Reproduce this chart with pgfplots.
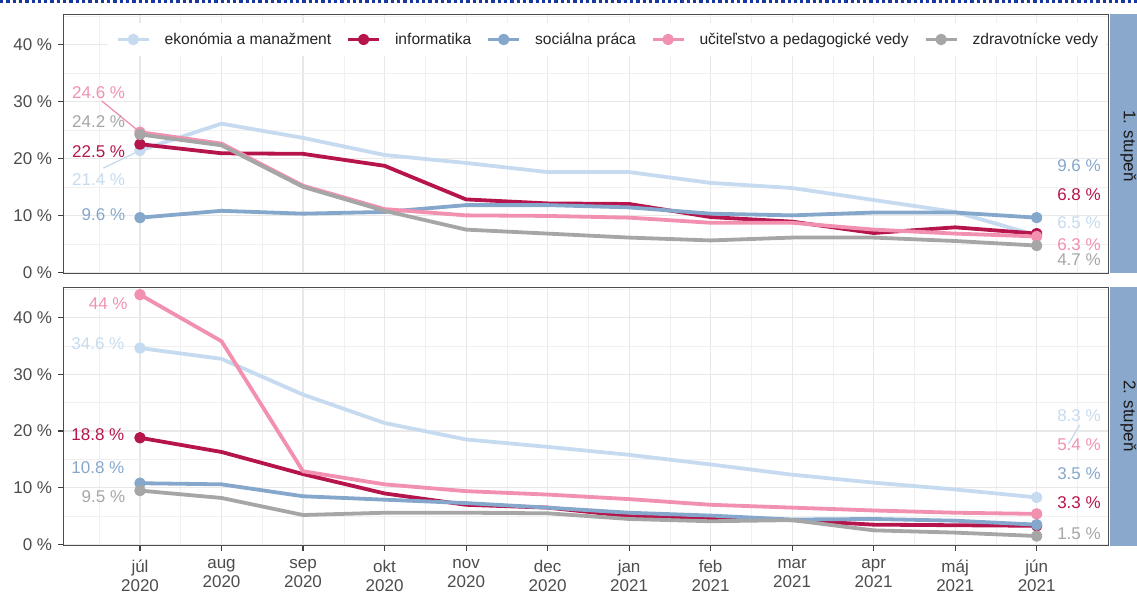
\documentclass[border=0pt]{standalone}
\usepackage{fontspec}
\setmainfont{Liberation Sans}
\usepackage{pgfplots}
\pgfplotsset{compat=1.18}
\definecolor{ekon}{RGB}{198,219,239}
\definecolor{info}{RGB}{181,20,77}
\definecolor{soc}{RGB}{134,167,204}
\definecolor{uc}{RGB}{241,145,175}
\definecolor{zdr}{RGB}{166,166,166}
\definecolor{strip}{RGB}{137,168,204}
\definecolor{dotblue}{RGB}{25,55,160}
\newcommand{\lbl}{\fontsize{17}{19}\selectfont}
\pgfplotsset{
  panel/.style={
    scale only axis, width=1045.7pt, anchor=south west,
    xmin=-0.941, xmax=11.887, ymin=-0.17, ymax=45.3,
    xtick={0,...,11}, minor xtick={-0.5,0.5,...,11.5},
    ytick={0,10,20,30,40}, minor ytick={5,15,25,35,45},
    yticklabels={0 \%,10 \%,20 \%,30 \%,40 \%},
    grid=both,
    major grid style={color=black!9, line width=1.1pt},
    minor grid style={color=black!6, line width=0.55pt},
    axis line style={color=black!70, line width=1pt},
    tick align=outside, tick pos=left,
    major tick length=5pt, minor tick length=0pt,
    tick style={color=black!75, line width=1.1pt},
    ticklabel style={font=\lbl, text=black!70},
    yticklabel style={inner sep=0pt, xshift=-6pt},
    every axis plot/.append style={line width=3.8pt, line join=round},
  },
  endpt/.style={only marks, mark=*, mark size=3.8pt, forget plot},
  leader/.style={line width=1.3pt, forget plot},
}
\begin{document}
\begin{tikzpicture}
\useasboundingbox (0pt,0pt) rectangle (1137pt,592pt);
% ---------- top panel: 1. stupen ----------
\begin{axis}[panel, at={(63.3pt,318.7pt)}, height=259pt,
  xticklabels={}, xtick style={draw=none},
  legend columns=5,
  legend image code/.code={\draw[mark repeat=2,mark phase=2,#1] plot coordinates {(0pt,0pt)(15.5pt,0pt)(31pt,0pt)};},
  legend style={at={(axis description cs:0.0425,0.9027)}, anchor=west,
    draw=none, fill=white, inner xsep=8pt, inner ysep=10pt,
    font=\fontsize{15.6}{18}\selectfont, text=black!85,
    nodes={inner sep=0pt},
    /tikz/every odd column/.append style={column sep=14pt},
    /tikz/every even column/.append style={column sep=15pt}},
]
\addplot[ekon, forget plot] coordinates {(0,21.4)(1,26.1)(2,23.6)(3,20.6)(4,19.2)(5,17.6)(6,17.6)(7,15.7)(8,14.8)(9,12.7)(10,10.6)(11,6.5)};
\addplot[info, forget plot] coordinates {(0,22.5)(1,20.9)(2,20.8)(3,18.7)(4,12.8)(5,12.1)(6,12.0)(7,9.7)(8,8.9)(9,6.9)(10,7.9)(11,6.8)};
\addplot[soc, forget plot] coordinates {(0,9.6)(1,10.8)(2,10.3)(3,10.6)(4,11.8)(5,11.8)(6,11.4)(7,10.3)(8,10.0)(9,10.5)(10,10.5)(11,9.6)};
\addplot[uc, forget plot] coordinates {(0,24.6)(1,22.6)(2,15.2)(3,11.1)(4,10.0)(5,9.9)(6,9.6)(7,8.7)(8,8.7)(9,7.5)(10,6.8)(11,6.3)};
\addplot[zdr, forget plot] coordinates {(0,24.2)(1,22.3)(2,15.0)(3,10.8)(4,7.5)(5,6.8)(6,6.1)(7,5.6)(8,6.1)(9,6.1)(10,5.5)(11,4.7)};
\addplot[ekon, endpt] coordinates {(0,21.4)(11,6.5)};
\addplot[info, endpt] coordinates {(0,22.5)(11,6.8)};
\addplot[soc, endpt] coordinates {(0,9.6)(11,9.6)};
\addplot[uc, endpt] coordinates {(0,24.6)(11,6.3)};
\addplot[zdr, endpt] coordinates {(0,24.2)(11,4.7)};
\addplot[uc, leader] coordinates {(-0.47,30.1)(0,24.6)};
\addplot[ekon, leader] coordinates {(-0.45,18.3)(0,21.4)};
\node[anchor=east, inner sep=0pt, font=\lbl, text=uc] at (axis cs:-0.18,31.5) {24.6 \%};
\node[anchor=east, inner sep=0pt, font=\lbl, text=zdr] at (axis cs:-0.18,26.4) {24.2 \%};
\node[anchor=east, inner sep=0pt, font=\lbl, text=info] at (axis cs:-0.18,21.2) {22.5 \%};
\node[anchor=east, inner sep=0pt, font=\lbl, text=ekon] at (axis cs:-0.18,16.2) {21.4 \%};
\node[anchor=east, inner sep=0pt, font=\lbl, text=soc] at (axis cs:-0.18,10.2) {9.6 \%};
\node[anchor=west, inner sep=0pt, font=\lbl, text=soc] at (axis cs:11.25,18.7) {9.6 \%};
\node[anchor=west, inner sep=0pt, font=\lbl, text=info] at (axis cs:11.25,13.6) {6.8 \%};
\node[anchor=west, inner sep=0pt, font=\lbl, text=ekon] at (axis cs:11.25,8.7) {6.5 \%};
\node[anchor=west, inner sep=0pt, font=\lbl, text=uc] at (axis cs:11.25,4.9) {6.3 \%};
\node[anchor=west, inner sep=0pt, font=\lbl, text=zdr] at (axis cs:11.25,2.2) {4.7 \%};
\addlegendimage{ekon, line width=3.8pt, mark=*, mark size=3.8pt}
\addlegendentry{ekonómia a manažment}
\addlegendimage{info, line width=3.8pt, mark=*, mark size=3.8pt}
\addlegendentry{informatika}
\addlegendimage{soc, line width=3.8pt, mark=*, mark size=3.8pt}
\addlegendentry{sociálna práca}
\addlegendimage{uc, line width=3.8pt, mark=*, mark size=3.8pt}
\addlegendentry{učiteľstvo a pedagogické vedy}
\addlegendimage{zdr, line width=3.8pt, mark=*, mark size=3.8pt}
\addlegendentry{zdravotnícke vedy}
\end{axis}
% ---------- bottom panel: 2. stupen ----------
\begin{axis}[panel, at={(63.3pt,46.5pt)}, height=258.2pt,
  xticklabels={{júl\\2020},{aug\\2020},{sep\\2020},{okt\\2020},{nov\\2020},{dec\\2020},{jan\\2021},{feb\\2021},{mar\\2021},{apr\\2021},{máj\\2021},{jún\\2021}},
  xticklabel style={align=center, inner sep=0pt, yshift=-9pt},
]
\addplot[ekon, forget plot] coordinates {(0,34.6)(1,32.7)(2,26.4)(3,21.4)(4,18.5)(5,17.2)(6,15.8)(7,14.1)(8,12.3)(9,10.9)(10,9.7)(11,8.3)};
\addplot[info, forget plot] coordinates {(0,18.8)(1,16.3)(2,12.4)(3,9.0)(4,7.0)(5,6.5)(6,5.0)(7,4.5)(8,4.3)(9,3.5)(10,3.4)(11,3.3)};
\addplot[soc, forget plot] coordinates {(0,10.8)(1,10.6)(2,8.5)(3,7.9)(4,7.3)(5,6.5)(6,5.6)(7,5.1)(8,4.4)(9,4.5)(10,4.2)(11,3.5)};
\addplot[uc, forget plot] coordinates {(0,44.0)(1,35.8)(2,12.9)(3,10.6)(4,9.4)(5,8.8)(6,8.0)(7,7.0)(8,6.5)(9,6.0)(10,5.6)(11,5.4)};
\addplot[zdr, forget plot] coordinates {(0,9.5)(1,8.2)(2,5.2)(3,5.6)(4,5.6)(5,5.5)(6,4.5)(7,4.1)(8,4.3)(9,2.5)(10,2.1)(11,1.5)};
\addplot[ekon, endpt] coordinates {(0,34.6)(11,8.3)};
\addplot[info, endpt] coordinates {(0,18.8)(11,3.3)};
\addplot[soc, endpt] coordinates {(0,10.8)(11,3.5)};
\addplot[uc, endpt] coordinates {(0,44.0)(11,5.4)};
\addplot[zdr, endpt] coordinates {(0,9.5)(11,1.5)};
\addplot[ekon, leader] coordinates {(11.53,21.1)(11.39,17.7)};
\node[anchor=east, inner sep=0pt, font=\lbl, text=uc] at (axis cs:-0.15,42.5) {44 \%};
\node[anchor=east, inner sep=0pt, font=\lbl, text=ekon] at (axis cs:-0.19,35.3) {34.6 \%};
\node[anchor=east, inner sep=0pt, font=\lbl, text=info] at (axis cs:-0.19,19.3) {18.8 \%};
\node[anchor=east, inner sep=0pt, font=\lbl, text=soc] at (axis cs:-0.19,13.6) {10.8 \%};
\node[anchor=east, inner sep=0pt, font=\lbl, text=zdr] at (axis cs:-0.18,8.4) {9.5 \%};
\node[anchor=west, inner sep=0pt, font=\lbl, text=ekon] at (axis cs:11.25,22.7) {8.3 \%};
\node[anchor=west, inner sep=0pt, font=\lbl, text=uc] at (axis cs:11.25,17.6) {5.4 \%};
\node[anchor=west, inner sep=0pt, font=\lbl, text=soc] at (axis cs:11.25,12.4) {3.5 \%};
\node[anchor=west, inner sep=0pt, font=\lbl, text=info] at (axis cs:11.25,7.3) {3.3 \%};
\node[anchor=west, inner sep=0pt, font=\lbl, text=zdr] at (axis cs:11.25,1.9) {1.5 \%};
\end{axis}
% ---------- facet strips ----------
\fill[strip] (1109.6pt,318.7pt) rectangle (1140pt,577.7pt);
\fill[strip] (1109.6pt,46.5pt) rectangle (1140pt,304.7pt);
\node[rotate=-90, font=\lbl, text=black!90, inner sep=0pt] at (1128.3pt,446.2pt) {1. stupeň};
\node[rotate=-90, font=\lbl, text=black!90, inner sep=0pt] at (1128.3pt,176.2pt) {2. stupeň};
% ---------- dotted frame line ----------
\draw[dotblue, line width=3.5pt, dash pattern=on 3.3pt off 3pt] (0pt,590.3pt) -- (1137pt,590.3pt);
\end{tikzpicture}
\end{document}
